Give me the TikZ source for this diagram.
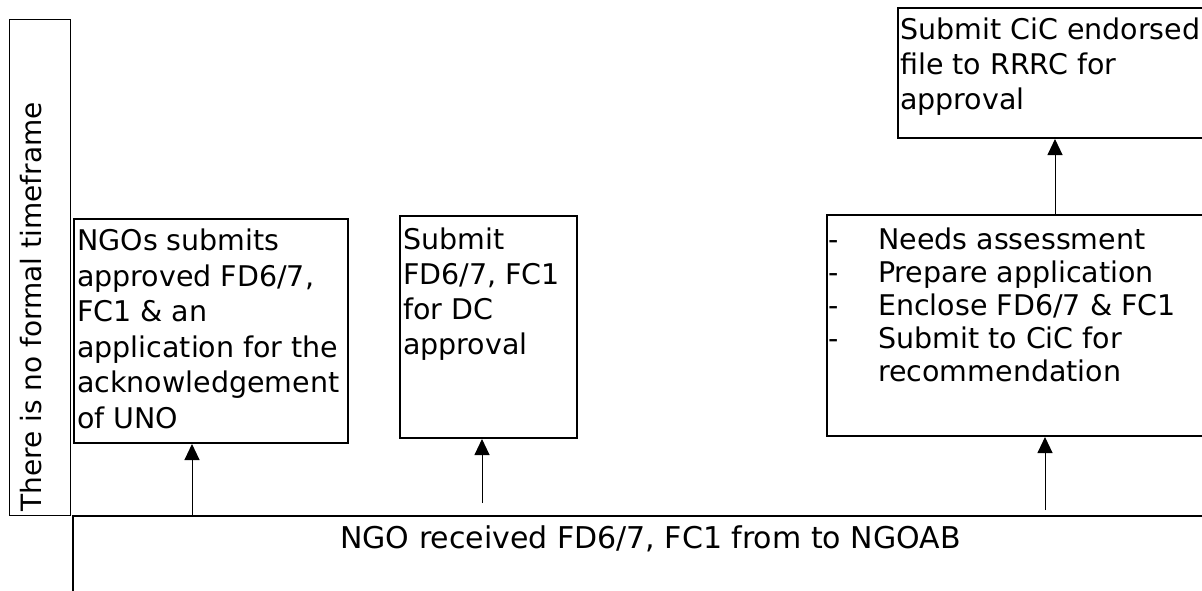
\documentclass[tikz,border=0pt]{standalone}
\usepackage{fontspec}
\setmainfont{DejaVu Sans}
\usetikzlibrary{arrows.meta}
\tikzset{
  boxx/.style={draw=black, line width=2pt, inner sep=0pt},
  thinbox/.style={draw=black, line width=0.8pt, inner sep=0pt},
  txt/.style={anchor=north west, inner sep=0pt, align=left, font=\fontsize{28.5pt}{35pt}\selectfont},
  arr/.style={line width=1pt, -{Triangle[length=16pt,width=15pt]}}
}
\begin{document}
\begin{tikzpicture}[x=1pt,y=-1pt]
\useasboundingbox (0,0) rectangle (1202,590);
% left vertical box
\node[thinbox, minimum width=61pt, minimum height=496pt] (tf) at (39.5,267) {};
\node[rotate=90, anchor=west, inner sep=0pt, font=\fontsize{28pt}{33pt}\selectfont] (tftxt) at (31,512) {There is no formal timeframe};
% bottom box
\node[boxx, minimum width=1140pt, minimum height=120pt, anchor=north west] (b0) at (72,515) {};
\node[anchor=base west, inner sep=0pt, font=\fontsize{30pt}{36pt}\selectfont] (b0txt) at (340,548) {NGO received FD6/7, FC1 from to NGOAB};
% box 1
\node[boxx, minimum width=274pt, minimum height=224pt, anchor=north west] (b1) at (73,218) {};
\node[txt, font=\fontsize{28.5pt}{35.5pt}\selectfont] (b1txt) at (77,229) {NGOs submits\\approved FD6/7,\\FC1 \& an\\application for the\\acknowledgement\\of UNO};
% box 2
\node[boxx, minimum width=177pt, minimum height=222pt, anchor=north west] (b2) at (399,215) {};
\node[txt] (b2txt) at (403,228) {Submit\\FD6/7, FC1\\for DC\\approval};
% box 3
\node[boxx, minimum width=400pt, minimum height=221pt, anchor=north west] (b3) at (826,214) {};
\node[txt, font=\fontsize{28.5pt}{33pt}\selectfont] (b3txt) at (828,228) {\makebox[50pt][l]{-}Needs assessment\\\makebox[50pt][l]{-}Prepare application\\\makebox[50pt][l]{-}Enclose FD6/7 \& FC1\\\makebox[50pt][l]{-}Submit to CiC for\\\hspace*{50pt}recommendation};
% top box
\node[boxx, minimum width=320pt, minimum height=130pt, anchor=north west] (b4) at (897,7) {};
\node[txt] (b4txt) at (900,18) {Submit CiC endorsed\\file to RRRC for\\approval};
% arrows
\coordinate (s1) at (192,515);
\coordinate (s2) at (482,503);
\coordinate (s3) at (1045,510);
\coordinate (s4) at (1055,214);
\draw[arr] (s1) -- (s1 |- b1.south);
\draw[arr] (s2) -- (s2 |- b2.south);
\draw[arr] (s3) -- (s3 |- b3.south);
\draw[arr] (s4) -- (s4 |- b4.south);
\end{tikzpicture}
\end{document}
